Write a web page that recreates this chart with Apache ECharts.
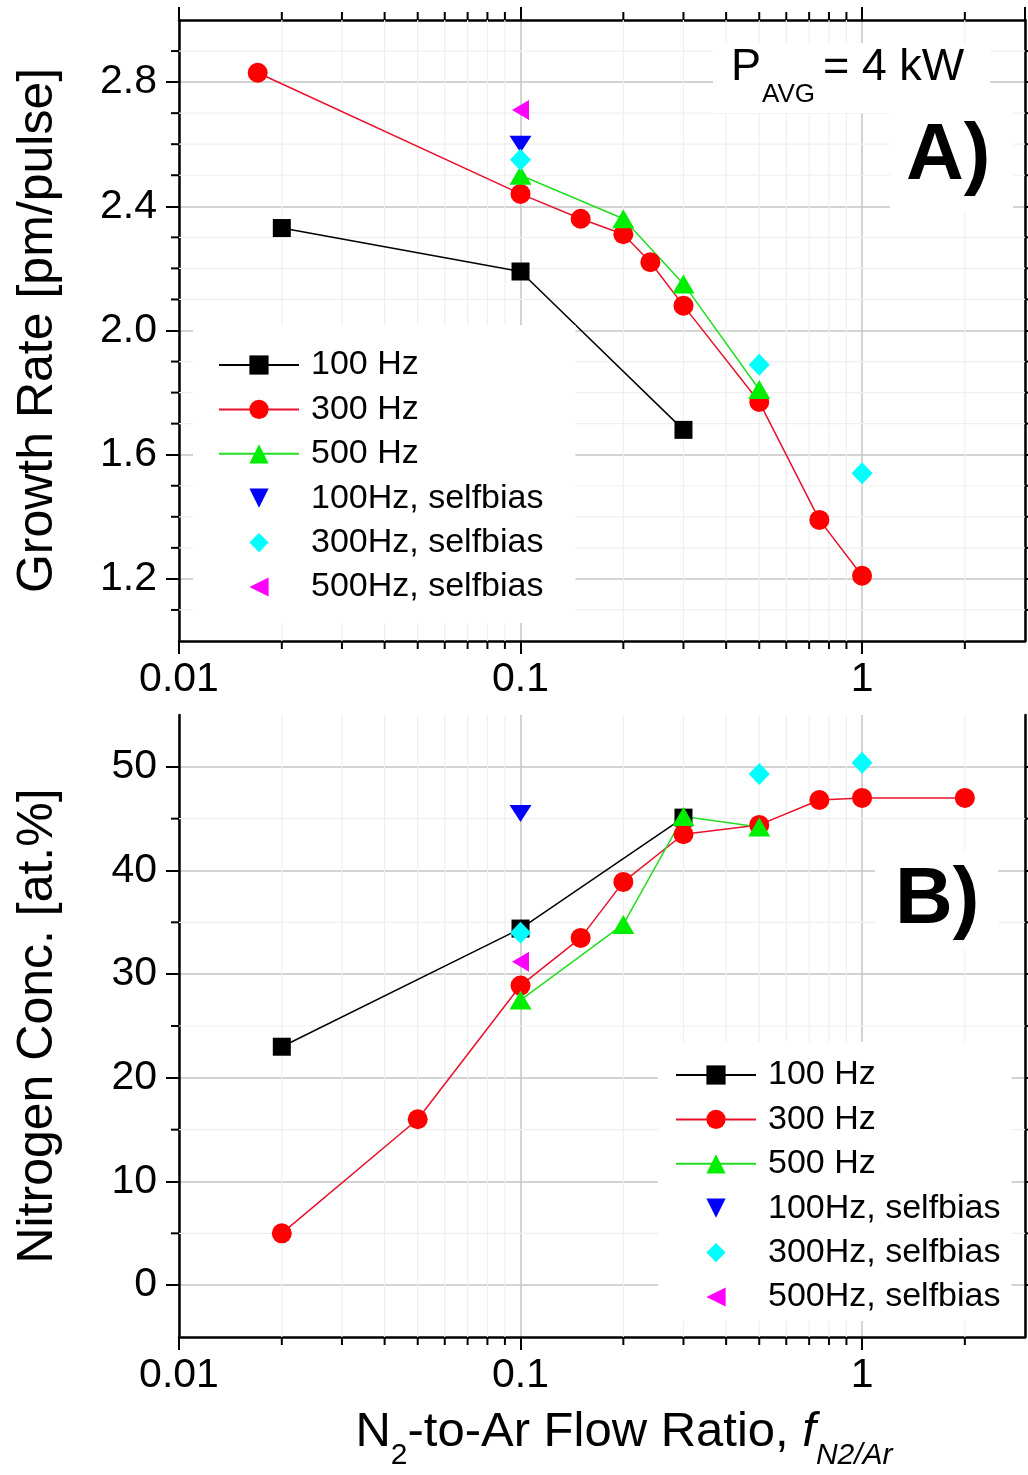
<!DOCTYPE html>
<html><head><meta charset="utf-8">
<script src="https://cdn.jsdelivr.net/npm/echarts@6/dist/echarts.min.js"></script>
<style>html,body{margin:0;padding:0;background:#fff}#c{width:1028px;height:1475px}</style>
</head><body><div id="c"></div>
<script>
const FONT = '"Liberation Sans", Arial, Helvetica, sans-serif';

// ---- axis tick values ----
const xMinorTicks = [0.02,0.03,0.04,0.05,0.06,0.07,0.08,0.09,0.2,0.3,0.4,0.5,0.6,0.7,0.8,0.9,2];
const yMajorA = [1.2,1.6,2.0,2.4,2.8];
const yMinorA = [1.1,1.3,1.4,1.5,1.7,1.8,1.9,2.1,2.2,2.3,2.5,2.6,2.7,2.9];
const yMajorB = [0,10,20,30,40,50];
const yMinorB = [5,15,25,35,45];

// ---- legend names ----
const names = ['100 Hz','300 Hz','500 Hz','100Hz, selfbias','300Hz, selfbias','500Hz, selfbias'];

// ---- Panel A: growth rate [pm/pulse] ----
const a100x = [0.02,0.1,0.3];
const a100y = [2.33,2.19,1.68];
const a300x = [0.017,0.1,0.15,0.2,0.24,0.3,0.5,0.75,1];
const a300y = [2.83,2.44,2.36,2.31,2.22,2.08,1.77,1.39,1.21];
const a500x = [0.1,0.2,0.3,0.5];
const a500y = [2.50,2.36,2.15,1.81];
const a100sbx = [0.1];
const a100sby = [2.60];
const a300sbx = [0.1,0.5,1];
const a300sby = [2.55,1.89,1.54];
const a500sbx = [0.1];
const a500sby = [2.71];

// ---- Panel B: nitrogen concentration [at.%] ----
const b100x = [0.02,0.1,0.3];
const b100y = [23.0,34.4,45.1];
const b300x = [0.02,0.05,0.1,0.15,0.2,0.3,0.5,0.75,1,2];
const b300y = [5.0,16.0,28.9,33.5,38.9,43.5,44.4,46.8,47.0,47.0];
const b500x = [0.1,0.2,0.3,0.5];
const b500y = [27.5,34.8,45.2,44.2];
const b100sbx = [0.1];
const b100sby = [45.5];
const b300sbx = [0.1,0.5,1];
const b300sby = [34.0,49.3,50.4];
const b500sbx = [0.1];
const b500sby = [31.2];

const zip = (xs, ys) => xs.map((x, i) => [x, ys[i]]);

const styles = [
  {symbol:'rect', size:18, color:'#000000', line:'#000000', lineOn:true},
  {symbol:'circle', size:20, color:'#ff0000', line:'#e8102a', lineOn:true},
  {symbol:'triangle', size:[22,19], color:'#00ee00', line:'#22dd22', lineOn:true},
  {symbol:'path://M0,0 L2,0 L1,1.6 Z', size:[22,17], color:'#0000ff', line:'#0000ff', lineOn:false},
  {symbol:'diamond', size:[21,22], color:'#00ffff', line:'#00ffff', lineOn:false},
  {symbol:'path://M0,1 L1.7,0 L1.7,2 Z', size:[17,20], color:'#ff00ff', line:'#ff00ff', lineOn:false}
];

function mkSeries(idx, data, gi) {
  const s = styles[idx];
  return {
    type:'line', name:names[idx], xAxisIndex: gi === 0 ? 0 : 2, yAxisIndex: gi === 0 ? 0 : 2,
    data: data, symbol: s.symbol, symbolSize: s.size, showSymbol:true, showAllSymbol:true,
    itemStyle:{color:s.color, opacity:1},
    lineStyle: s.lineOn ? {color:s.line, width:1.5} : {color:s.color, width:1, opacity:0},
    emphasis:{disabled:true}, silent:true, z:3, clip:false
  };
}

function xMinorRender(withTop) {
  return function (params, api) {
    const cs = params.coordSys;
    const p = api.coord([api.value(0), api.value(1)]);
    const x = p[0];
    const ch = [
      {type:'line', shape:{x1:x, y1:cs.y, x2:x, y2:cs.y + cs.height}, style:{stroke:'#efefef', lineWidth:1.2}},
      {type:'line', shape:{x1:x, y1:cs.y + cs.height, x2:x, y2:cs.y + cs.height + 8}, style:{stroke:'#000', lineWidth:2}}
    ];
    if (withTop) ch.push({type:'line', shape:{x1:x, y1:cs.y, x2:x, y2:cs.y - 8}, style:{stroke:'#000', lineWidth:2}});
    return {type:'group', children:ch};
  };
}
function yMinorRender(params, api) {
  const cs = params.coordSys;
  const p = api.coord([api.value(0), api.value(1)]);
  const y = p[1];
  return {type:'group', children:[
    {type:'line', shape:{x1:cs.x, y1:y, x2:cs.x + cs.width, y2:y}, style:{stroke:'#efefef', lineWidth:1.2}},
    {type:'line', shape:{x1:cs.x - 8, y1:y, x2:cs.x, y2:y}, style:{stroke:'#000', lineWidth:2}},
    {type:'line', shape:{x1:cs.x + cs.width, y1:y, x2:cs.x + cs.width + 8, y2:y}, style:{stroke:'#000', lineWidth:2}}
  ]};
}

const axLine = {show:true, onZero:false, lineStyle:{color:'#000', width:2.5}};
const majTick = {show:true, inside:false, length:13, lineStyle:{color:'#000', width:2}};
const lbl = {color:'#000', fontSize:41, fontFamily:FONT};

function xAxisDef(gi, pos, showLabel, extra) {
  return Object.assign({
    gridIndex:gi, type:'log', logBase:10, min:0.01, max:3, position:pos,
    axisLine:axLine, axisTick:majTick, minorTick:{show:false},
    axisLabel: showLabel ? Object.assign({show:true, margin:18, showMaxLabel:false, showMinLabel:true}, lbl) : {show:false},
    splitLine: pos === 'bottom' ? {show:true, lineStyle:{color:'#c4c4c4', width:1.5}} : {show:false}
  }, extra || {});
}
function yAxisDef(gi, pos, min, max, major, fmt, extra) {
  return Object.assign({
    gridIndex:gi, type:'value', min:min, max:max, position:pos,
    axisLine:axLine, axisTick:Object.assign({customValues:major}, majTick), minorTick:{show:false},
    axisLabel: pos === 'left' ? Object.assign({show:true, customValues:major, margin:22, formatter:fmt}, lbl) : {show:false},
    splitLine: pos === 'left' ? {show:true, lineStyle:{color:'#c4c4c4', width:1.5}} : {show:false}
  }, extra || {});
}

const legendBase = {
  orient:'vertical', backgroundColor:'#fff', itemWidth:80, itemHeight:24, itemGap:10.4,
  data:names, selectedMode:false, z:10,
  textStyle:{fontSize:34, fontFamily:FONT, color:'#000', lineHeight:34, padding:[0,0,0,7]}
};

const option = {
  animation:false,
  backgroundColor:'#fff',
  textStyle:{fontFamily:FONT},
  grid:[
    {left:179, top:20, width:846, height:621, containLabel:false, outerBoundsMode:'none'},
    {left:179, top:715, width:846, height:622, containLabel:false, outerBoundsMode:'none'}
  ],
  xAxis:[
    xAxisDef(0, 'bottom', true),
    xAxisDef(0, 'top', false),
    xAxisDef(1, 'bottom', true, {
      name:'{m|N}{s|2}{m|-to-Ar Flow Ratio, }{i|f}{is|N2/Ar}',
      nameLocation:'middle', nameGap:56, nameMoveOverlap:false,
      nameTextStyle:{fontSize:49, fontFamily:FONT, color:'#000', padding:[0,0,0,44],
        rich:{
          m:{fontSize:49, lineHeight:78, fontFamily:FONT, color:'#000'},
          s:{fontSize:30, lineHeight:30, verticalAlign:'bottom', fontFamily:FONT, color:'#000'},
          i:{fontSize:49, lineHeight:78, fontStyle:'italic', fontFamily:FONT, color:'#000'},
          is:{fontSize:30, lineHeight:30, verticalAlign:'bottom', fontStyle:'italic', fontFamily:FONT, color:'#000'}
        }}
    })
  ],
  yAxis:[
    yAxisDef(0, 'left', 1, 3, yMajorA, v => v.toFixed(1), {
      name:'Growth Rate [pm/pulse]', nameLocation:'middle', nameGap:116, nameMoveOverlap:false,
      nameTextStyle:{fontSize:50, fontFamily:FONT, color:'#000'}
    }),
    yAxisDef(0, 'right', 1, 3, yMajorA),
    yAxisDef(1, 'left', -5, 55, yMajorB, v => String(v), {
      name:'Nitrogen Conc. [at.%]', nameLocation:'middle', nameGap:116, nameMoveOverlap:false,
      nameTextStyle:{fontSize:50, fontFamily:FONT, color:'#000'}
    }),
    yAxisDef(1, 'right', -5, 55, yMajorB)
  ],
  legend:[
    Object.assign({left:193, top:325, padding:[23,32,19,25]}, legendBase),
    Object.assign({left:658, top:1042, padding:[16,11,7,17]}, legendBase)
  ],
  graphic:[
    {type:'rect', shape:{x:713, y:43, width:277, height:70}, style:{fill:'#fff'}, z:20},
    {type:'text', x:731, y:68, z:21, style:{text:'P', fontSize:45, fontFamily:FONT, fill:'#000', verticalAlign:'middle', align:'left'}},
    {type:'text', x:762, y:95, z:21, style:{text:'AVG', fontSize:26, fontFamily:FONT, fill:'#000', verticalAlign:'middle', align:'left'}},
    {type:'text', x:823, y:68, z:21, style:{text:'= 4 kW', fontSize:45, fontFamily:FONT, fill:'#000', verticalAlign:'middle', align:'left'}},
    {type:'rect', shape:{x:890, y:110, width:123, height:102}, style:{fill:'#fff'}, z:20},
    {type:'text', x:906, y:157, z:21, style:{text:'A)', fontSize:80, fontWeight:'bold', fontFamily:FONT, fill:'#000', verticalAlign:'middle', align:'left'}},
    {type:'rect', shape:{x:875, y:850, width:123, height:100}, style:{fill:'#fff'}, z:20},
    {type:'text', x:895, y:901, z:21, style:{text:'B)', fontSize:80, fontWeight:'bold', fontFamily:FONT, fill:'#000', verticalAlign:'middle', align:'left'}}
  ],
  series:[
    {type:'custom', xAxisIndex:0, yAxisIndex:0, data:xMinorTicks.map(v => [v, 1]), renderItem:xMinorRender(true), silent:true, z:1, clip:false},
    {type:'custom', xAxisIndex:0, yAxisIndex:0, data:yMinorA.map(v => [0.01, v]), renderItem:yMinorRender, silent:true, z:1, clip:false},
    {type:'custom', xAxisIndex:2, yAxisIndex:2, data:xMinorTicks.map(v => [v, -5]), renderItem:xMinorRender(false), silent:true, z:1, clip:false},
    {type:'custom', xAxisIndex:2, yAxisIndex:2, data:yMinorB.map(v => [0.01, v]), renderItem:yMinorRender, silent:true, z:1, clip:false},
    mkSeries(0, zip(a100x, a100y), 0),
    mkSeries(1, zip(a300x, a300y), 0),
    mkSeries(2, zip(a500x, a500y), 0),
    mkSeries(3, zip(a100sbx, a100sby), 0),
    mkSeries(4, zip(a300sbx, a300sby), 0),
    mkSeries(5, zip(a500sbx, a500sby), 0),
    mkSeries(0, zip(b100x, b100y), 1),
    mkSeries(1, zip(b300x, b300y), 1),
    mkSeries(2, zip(b500x, b500y), 1),
    mkSeries(3, zip(b100sbx, b100sby), 1),
    mkSeries(4, zip(b300sbx, b300sby), 1),
    mkSeries(5, zip(b500sbx, b500sby), 1)
  ]
};

const chart = echarts.init(document.getElementById('c'), null, {renderer:'canvas'});
chart.setOption(option);
</script>
</body></html>
